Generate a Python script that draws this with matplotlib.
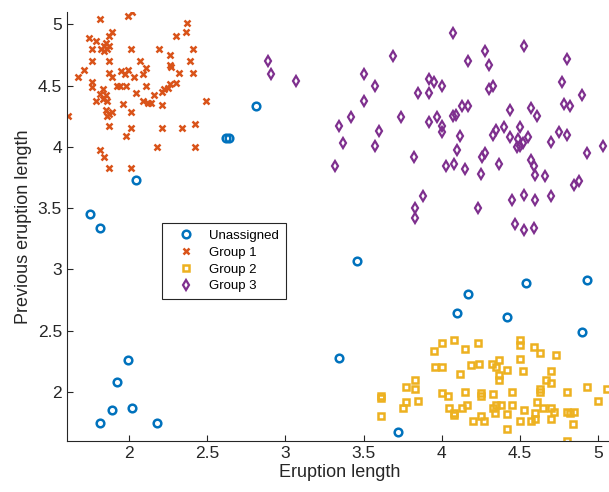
import matplotlib
matplotlib.use("Agg")
import matplotlib.pyplot as plt

plt.rcParams['font.family'] = ['Liberation Sans', 'DejaVu Sans']

# cluster assignments (eruption length, previous eruption length)
un_x = [2.62, 2.64, 2.81, 2.04, 1.75, 1.81, 1.99, 1.92, 1.89, 2.02, 1.81, 2.18,
        3.46, 3.34, 3.72, 4.17, 4.10, 4.42, 4.54, 4.93, 4.90]
un_y = [4.07, 4.07, 4.33, 3.73, 3.45, 3.34, 2.26, 2.08, 1.85, 1.87, 1.75, 1.75,
        3.07, 2.28, 1.67, 2.80, 2.64, 2.61, 2.89, 2.91, 2.49]

g1_x = [1.81, 1.99, 2.02, 2.37, 2.36, 2.30, 1.74, 1.89, 1.87, 1.79, 1.76, 1.84,
        1.85, 1.87, 1.84, 1.86, 1.82, 2.01, 2.19, 2.41, 2.26, 1.76, 1.87, 2.07,
        2.26, 2.27, 2.39, 1.71, 1.67, 1.87, 1.89, 1.95, 1.99, 1.97, 2.03, 2.11,
        2.09, 2.32, 2.41, 2.30, 2.26, 2.25, 1.76, 1.76, 1.92, 1.94, 1.98, 2.11,
        1.83, 1.81, 1.85, 1.83, 1.86, 1.79, 2.04, 2.16, 2.21, 2.22, 2.09, 2.12,
        2.14, 1.96, 2.21, 2.49, 1.61, 1.85, 1.87, 1.89, 1.86, 2.01, 1.87, 2.01,
        1.98, 2.21, 2.34, 2.42, 2.18, 2.42, 1.81, 1.84, 1.87, 2.01]
g1_y = [5.04, 5.07, 5.10, 5.01, 4.94, 4.90, 4.89, 4.94, 4.90, 4.86, 4.80, 4.82,
        4.85, 4.82, 4.78, 4.80, 4.80, 4.80, 4.80, 4.80, 4.75, 4.70, 4.70, 4.70,
        4.67, 4.65, 4.70, 4.63, 4.57, 4.60, 4.57, 4.62, 4.63, 4.59, 4.57, 4.64,
        4.59, 4.60, 4.60, 4.52, 4.51, 4.48, 4.53, 4.49, 4.50, 4.50, 4.50, 4.50,
        4.47, 4.43, 4.42, 4.39, 4.37, 4.37, 4.44, 4.42, 4.45, 4.47, 4.37, 4.36,
        4.36, 4.35, 4.34, 4.37, 4.25, 4.30, 4.27, 4.28, 4.25, 4.28, 4.17, 4.15,
        4.09, 4.15, 4.15, 4.19, 4.00, 4.00, 3.97, 3.92, 3.83, 3.83]

g2_x = [3.61, 3.61, 3.61, 3.77, 3.77, 3.75, 3.83, 3.83, 3.85, 3.95, 4.00, 4.08,
        4.15, 4.23, 3.96, 4.00, 4.12, 4.19, 4.24, 4.32, 4.37, 4.35, 4.42, 4.37,
        4.37, 4.50, 4.50, 4.50, 4.52, 4.59, 4.63, 4.73, 4.70, 4.67, 4.70, 4.63,
        4.63, 4.00, 4.04, 4.15, 4.25, 4.25, 4.33, 4.45, 4.61, 4.80, 4.93, 5.06,
        5.00, 4.05, 4.08, 4.08, 4.13, 4.16, 4.20, 4.27, 4.25, 4.33, 4.34, 4.38,
        4.35, 4.42, 4.45, 4.42, 4.50, 4.57, 4.53, 4.60, 4.60, 4.65, 4.70, 4.72,
        4.70, 4.80, 4.82, 4.85, 4.84, 4.80]
g2_y = [1.97, 1.95, 1.80, 2.04, 1.92, 1.87, 2.10, 2.02, 1.93, 2.33, 2.40, 2.42,
        2.35, 2.40, 2.20, 2.20, 2.15, 2.22, 2.23, 2.23, 2.26, 2.20, 2.18, 2.14,
        2.10, 2.42, 2.38, 2.27, 2.17, 2.37, 2.32, 2.30, 2.17, 2.10, 2.07, 2.02,
        2.00, 1.99, 1.97, 2.00, 1.99, 1.97, 1.98, 2.00, 1.92, 2.00, 2.04, 2.02,
        1.93, 1.87, 1.83, 1.81, 1.87, 1.89, 1.76, 1.76, 1.80, 1.87, 1.83, 1.89,
        1.89, 1.82, 1.89, 1.70, 1.76, 1.76, 1.85, 1.83, 1.78, 1.87, 1.87, 1.84,
        1.78, 1.84, 1.83, 1.84, 1.74, 1.60]

g3_x = [2.89, 2.91, 3.07, 4.07, 4.53, 3.69, 4.28, 4.17, 4.30, 4.80, 3.50, 3.57,
        3.50, 3.92, 3.95, 4.00, 3.85, 3.92, 4.30, 4.33, 4.77, 4.90, 4.78, 4.82,
        3.34, 3.42, 3.37, 3.60, 3.57, 3.74, 3.32, 3.82, 3.92, 3.97, 4.00, 4.00,
        4.07, 4.09, 4.13, 4.17, 4.12, 4.10, 4.03, 4.08, 4.15, 4.25, 4.26, 4.28,
        4.37, 4.33, 4.35, 4.40, 4.44, 4.44, 4.50, 4.49, 4.50, 4.48, 4.52, 4.55,
        4.57, 4.61, 4.70, 4.75, 4.80, 4.93, 5.03, 4.57, 4.59, 4.60, 4.66, 4.85,
        4.88, 3.88, 3.83, 3.83, 4.23, 4.45, 4.53, 4.60, 4.70, 4.47, 4.53, 4.59]
g3_y = [4.70, 4.59, 4.54, 4.93, 4.82, 4.74, 4.78, 4.70, 4.67, 4.72, 4.59, 4.50,
        4.37, 4.55, 4.53, 4.50, 4.44, 4.44, 4.47, 4.50, 4.53, 4.42, 4.35, 4.33,
        4.17, 4.24, 4.03, 4.13, 4.01, 4.24, 3.84, 3.92, 4.20, 4.24, 4.17, 4.12,
        4.25, 4.26, 4.33, 4.33, 4.09, 3.97, 3.84, 3.86, 3.82, 3.78, 3.92, 3.95,
        3.86, 4.10, 4.14, 4.16, 4.30, 4.08, 4.16, 4.06, 4.01, 4.00, 4.03, 4.08,
        4.32, 4.25, 4.04, 4.12, 4.10, 3.95, 4.01, 3.89, 3.84, 3.77, 3.76, 3.69,
        3.72, 3.60, 3.50, 3.42, 3.50, 3.57, 3.61, 3.57, 3.60, 3.37, 3.32, 3.34]

ticks = [2, 2.5, 3, 3.5, 4, 4.5, 5]
tick_labels = ['2', '2.5', '3', '3.5', '4', '4.5', '5']

fig = plt.figure(figsize=(6.09, 4.92), dpi=100)
ax = fig.add_axes([0.1097, 0.1037, 0.8977, 0.872])

ax.plot(un_x, un_y, 'o', ls='none', mfc='none', mec='#0072BD', ms=5.5, mew=1.8, label='Unassigned')
ax.plot(g1_x, g1_y, 'x', ls='none', color='#D95319', ms=5, mew=1.8, label='Group 1')
ax.plot(g2_x, g2_y, 's', ls='none', mfc='none', mec='#EDB120', ms=4.5, mew=1.8, label='Group 2')
ax.plot(g3_x, g3_y, 'd', ls='none', mfc='none', mec='#7E2F8E', ms=5.6, mew=1.6, label='Group 3')

ax.set_xlim(1.6, 5.1)
ax.set_ylim(1.6, 5.1)
ax.set_xticks(ticks, labels=tick_labels)
ax.set_yticks(ticks, labels=tick_labels)
ax.tick_params(direction='in', length=4, width=0.8, color='#262626',
               labelcolor='#262626', labelsize=12.5)
for s in ['top', 'right']:
    ax.spines[s].set_visible(False)
for s in ['left', 'bottom']:
    ax.spines[s].set_color('#262626')
    ax.spines[s].set_linewidth(0.8)

ax.set_xlabel('Eruption length', fontsize=13, color='#262626', labelpad=2)
ax.set_ylabel('Previous eruption length', fontsize=13, color='#262626', labelpad=4)

leg = ax.legend(loc='upper left', bbox_to_anchor=(0.174, 0.508), borderaxespad=0,
                fontsize=9.5, fancybox=False, framealpha=1, edgecolor='#262626',
                handlelength=2.6, borderpad=0.5, handletextpad=0.5, labelspacing=0.35)
leg.get_frame().set_linewidth(0.8)

fig.savefig('out.png', dpi=100)
